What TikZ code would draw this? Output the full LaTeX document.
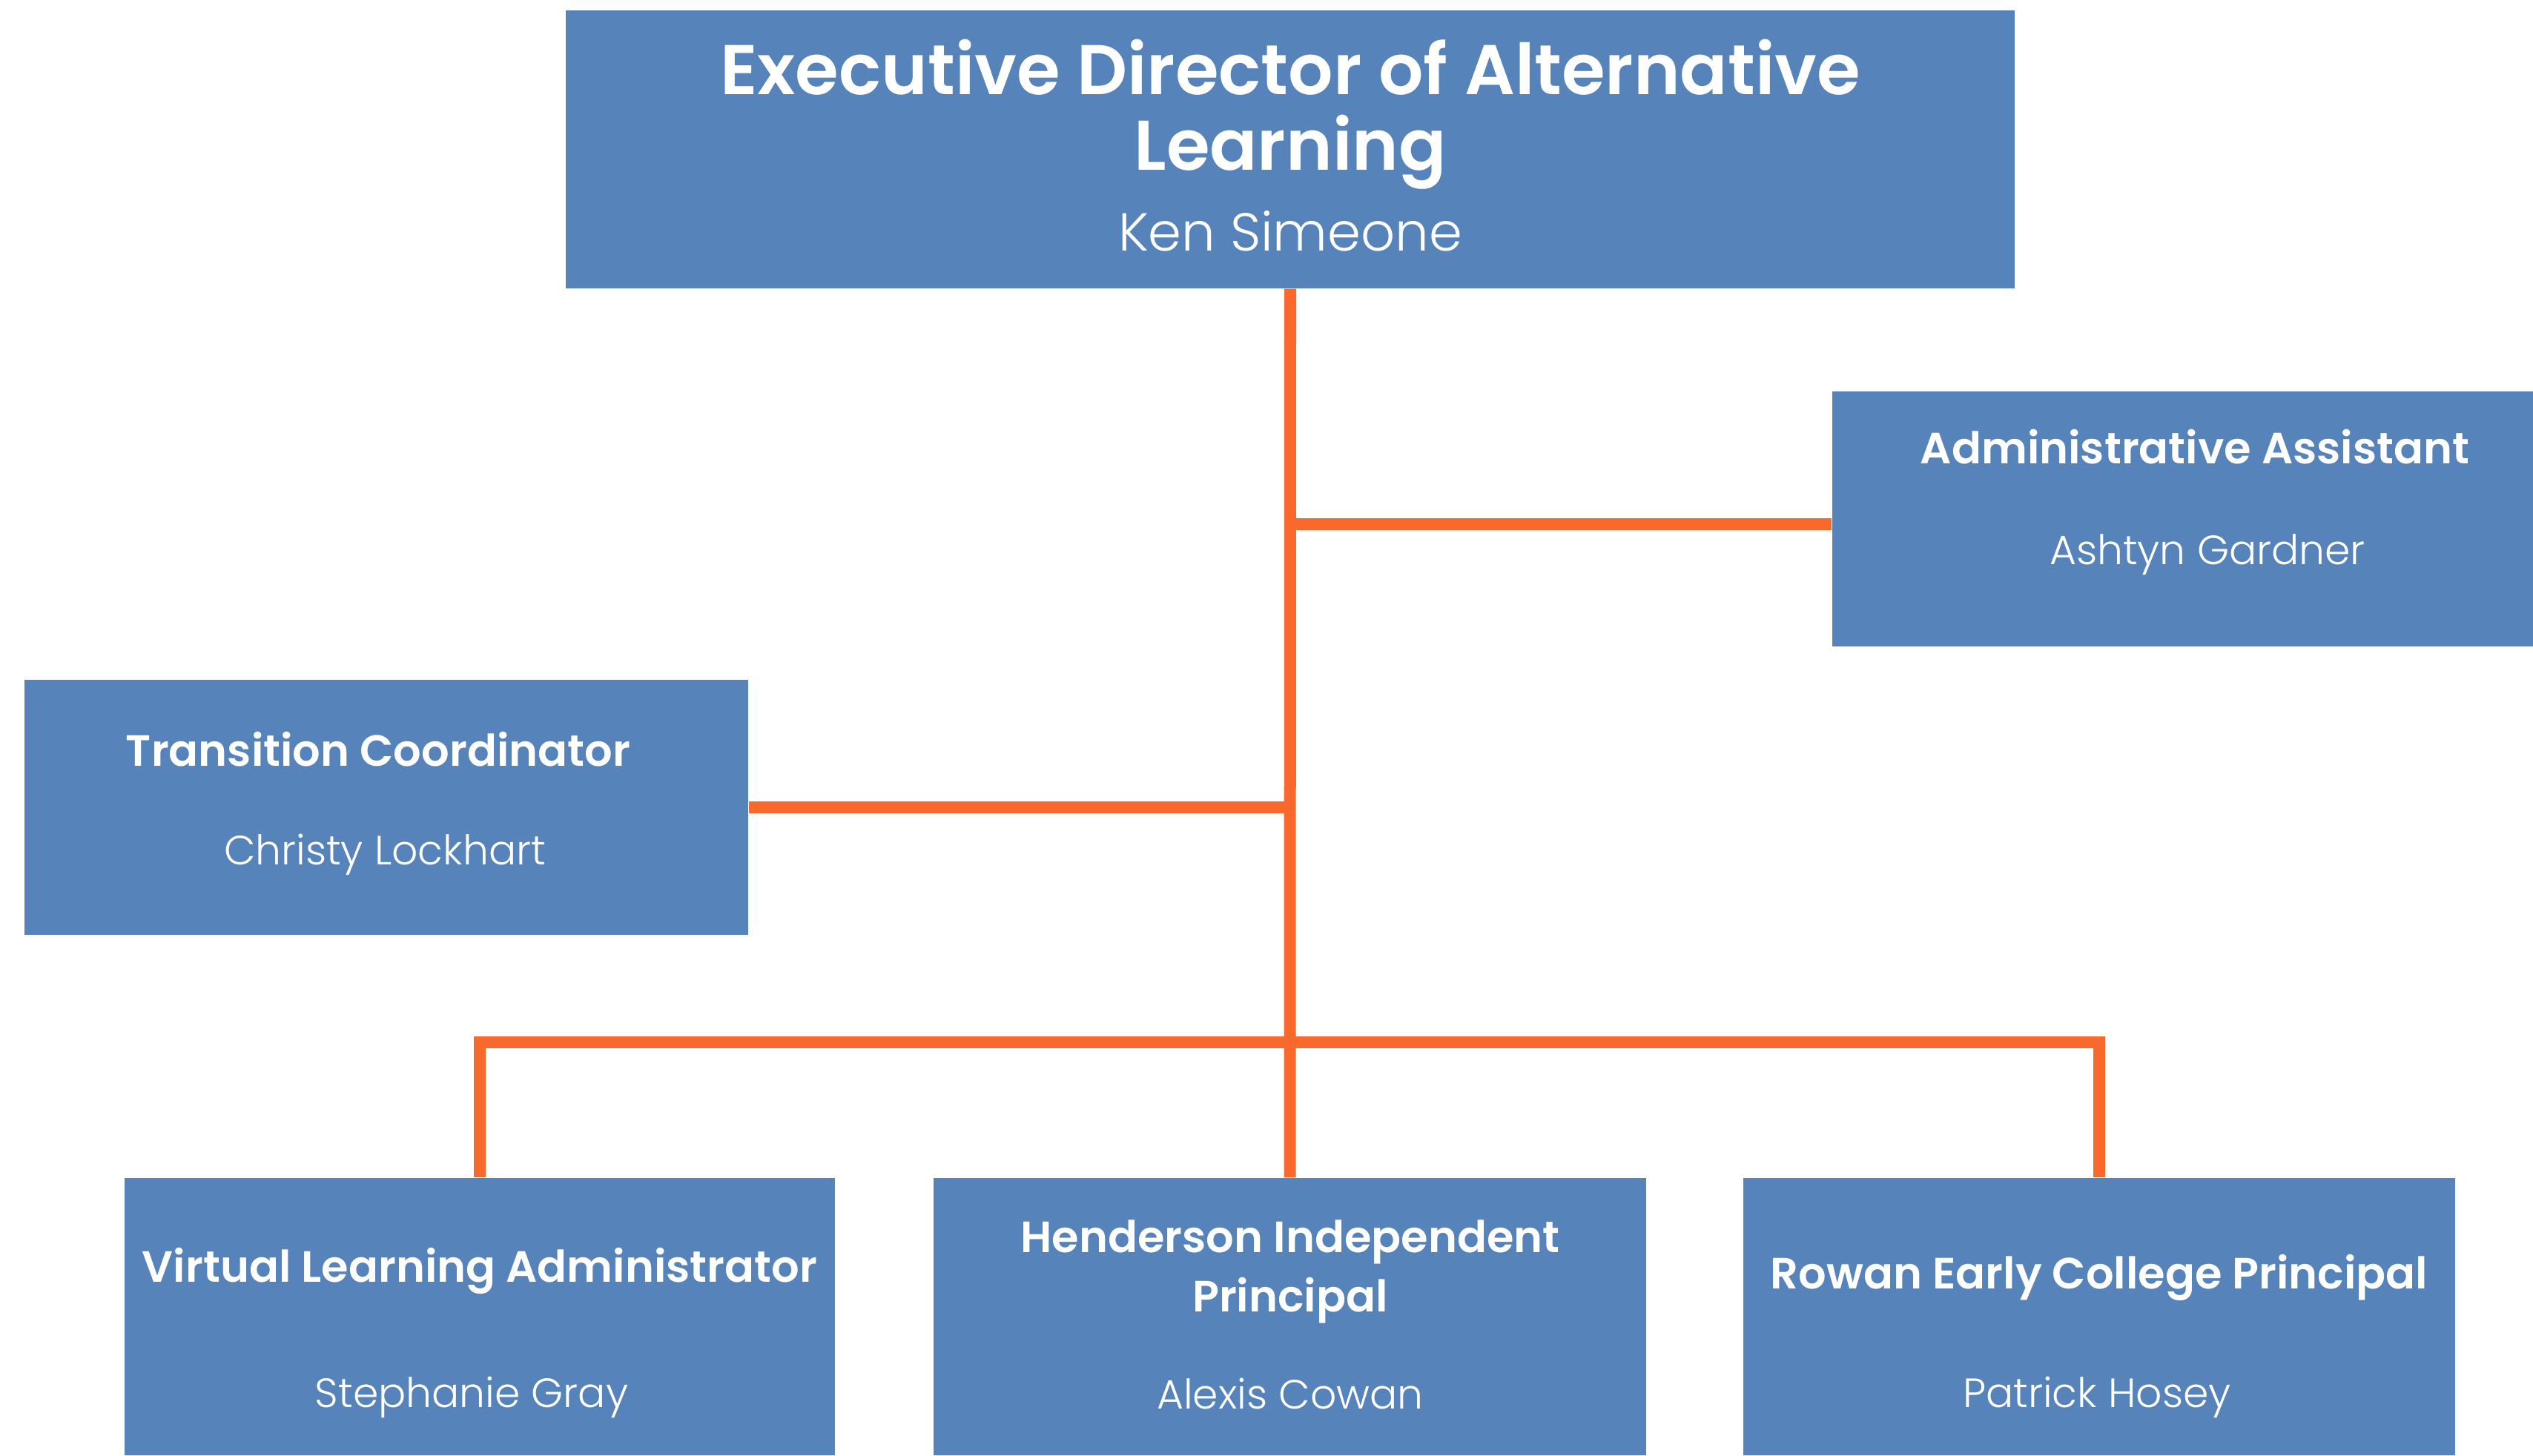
\documentclass[tikz,border=0pt]{standalone}
\usepackage{fontspec}
\setmainfont{Poppins}[BoldFont={Poppins SemiBold}]
\newfontfamily\namefont{Poppins Light}
\definecolor{boxblue}{RGB}{86,131,186}
\definecolor{wireorange}{RGB}{249,105,44}

\begin{document}
\begin{tikzpicture}[
	box/.style={shape=rectangle, fill=boxblue, inner sep=0pt},
	ttl/.style={anchor=center, align=center, text=white, font=\bfseries\fontsize{16.8}{23}\selectfont},
	nm/.style={anchor=center, align=center, text=white, font=\namefont\fontsize{15.7}{19}\selectfont},
	wire/.style={draw=wireorange, line width=0.16cm}]
	\useasboundingbox (0,0) rectangle (34.16,-19.63);	% Boxes and texts:
			\node[box, minimum width=19.54cm, minimum height=3.75cm](dir) at (17.40, -2.015){};
			\node[ttl, font=\bfseries\fontsize{27}{29}\selectfont](dirT) at (17.40, -1.54){Executive Director of Alternative\\Learning};
			\node[nm, font=\namefont\fontsize{20.5}{24}\selectfont](dirN) at (17.40, -3.12){Ken Simeone};
			\node[box, minimum width=9.45cm, minimum height=3.44cm](asst) at (29.435, -7.00){};
			\node[ttl](asstT) at (29.60, -6.03){Administrative Assistant};
			\node[nm](asstN) at (29.77, -7.48){Ashtyn Gardner};
			\node[box, minimum width=9.76cm, minimum height=3.44cm](trans) at (5.21, -10.89){};
			\node[ttl](transT) at (5.10, -10.11){Transition Coordinator};
			\node[nm](transN) at (5.19, -11.53){Christy Lockhart};
			\node[box, minimum width=9.58cm, minimum height=3.74cm](vla) at (6.47, -17.76){};
			\node[ttl](vlaT) at (6.47, -17.145){Virtual Learning Administrator};
			\node[nm](vlaN) at (6.36, -18.85){Stephanie Gray};
			\node[box, minimum width=9.61cm, minimum height=3.74cm](hip) at (17.395, -17.76){};
			\node[ttl](hipT) at (17.40, -17.155){Henderson Independent\\Principal};
			\node[nm](hipN) at (17.40, -18.80){Alexis Cowan};
			\node[box, minimum width=9.60cm, minimum height=3.74cm](rec) at (28.31, -17.76){};
			\node[ttl](recT) at (28.31, -17.23){Rowan Early College Principal};
			\node[nm](recN) at (28.28, -18.85){Patrick Hosey};
			\coordinate (bus) at (17.40, -14.06);
			% Wires:
			\draw[wire] (dir.south) -- (hip.north);
			\draw[wire] (asst.west |- 0,-7.07) -- (17.40, -7.07);
			\draw[wire] (trans.east) -- (trans.east -| dir.south);
			\draw[wire] (vla.north) |- (bus) -| (rec.north);
		\end{tikzpicture}
\end{document}
